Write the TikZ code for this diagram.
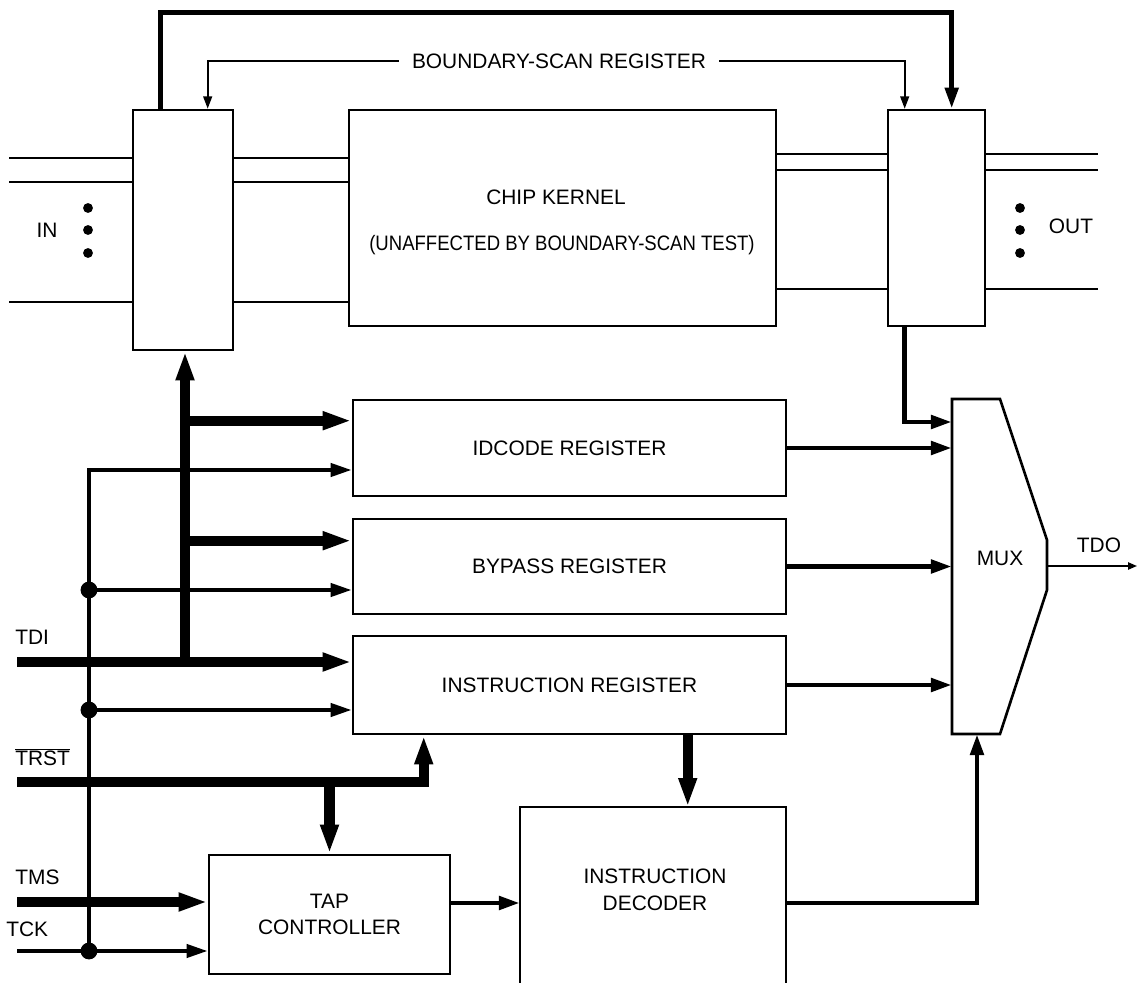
\documentclass[tikz,border=0pt]{standalone}
\usepackage{fontspec}
\setmainfont{Liberation Sans}
\usetikzlibrary{arrows.meta,calc}
\tikzset{
  Tl/.tip={Triangle[length=16.5pt,width=9.6pt]},
  Tm/.tip={Triangle[length=12pt,width=7.4pt]},
  Ts/.tip={Triangle[length=7pt,width=5pt]},
  Tt/.tip={Triangle[length=5pt,width=4pt]},
}
\begin{document}
\begin{tikzpicture}[x=0.02cm,y=-0.02cm,
  every node/.style={font=\fontsize{11.9}{15.2}\selectfont,inner sep=0pt},
  boxl/.style={line width=1.5pt},
  box/.style={draw,boxl,inner sep=0pt,align=center},
  sig/.style={line width=1.2pt},
  thinl/.style={line width=1.0pt},
  med/.style={line width=2.8pt},
  tckl/.style={line width=2.3pt},
  bus/.style={line width=5.8pt},
  lbl/.style={anchor=west},
  dotS/.style={fill=black},
]
\useasboundingbox (0,0) rectangle (1137,983);

% boxes
\node[box,minimum width=2cm,minimum height=4.8cm] (bsl) at (183,230) {};
\node[box,minimum width=8.54cm,minimum height=4.32cm] (kernel) at (562.5,218) {};
\node (k1) at (556,197) {CHIP KERNEL};
\node (k2) at (562,245) {\scalebox{0.887}[1]{(UNAFFECTED BY BOUNDARY-SCAN TEST)}};
\node[box,minimum width=1.94cm,minimum height=4.32cm] (bso) at (936.5,218) {};
\node[box,minimum width=8.66cm,minimum height=1.92cm] (idcode) at (569.5,448) {IDCODE REGISTER};
\node[box,minimum width=8.66cm,minimum height=1.9cm] (bypass) at (569.5,566.5) {BYPASS REGISTER};
\node[box,minimum width=8.66cm,minimum height=1.96cm] (ir) at (569.5,685) {INSTRUCTION REGISTER};
\node[box,minimum width=4.82cm,minimum height=2.38cm] (tap) at (329.5,914.5) {TAP\\CONTROLLER};

% instruction decoder (open at the bottom)
\coordinate (decnw) at (520,807);
\coordinate (decne) at (786,807);
\coordinate (decsw) at (520,995);
\coordinate (decse) at (786,995);
\draw[boxl] (decsw) -- (decnw) -- (decne) -- (decse);
\node[align=center] (declbl) at (655,890) {INSTRUCTION\\DECODER};

% MUX
\coordinate (mux1) at (952,399);
\coordinate (mux2) at (1000,399);
\coordinate (mux3) at (1047,540);
\coordinate (mux4) at (1047,590);
\coordinate (mux5) at (1000,734);
\coordinate (mux6) at (952,734);
\draw[boxl] (mux1) -- (mux2) -- (mux3) -- (mux4) -- (mux5) -- (mux6) -- cycle;
\node (muxlbl) at (1000,558) {MUX};
\coordinate (muxout) at (1047,566);
\coordinate (muxin0) at (952,422);
\coordinate (muxbot) at (977,734);

% top loop
\draw[med,-{Tm}] ($(bsl.north west)+(29,0)$) -- ++(0,-96) -| ($(bso.north west)+(65,0)$);

% boundary-scan register label and thin arrows
\node[inner xsep=7.4pt] (bsr) at (559,61) {BOUNDARY-SCAN REGISTER};
\draw[thinl,-{Ts}] (bsr.west) -| ($(bsl.north west)+(76,0)$);
\draw[thinl,-{Ts}] (bsr.east) -| ($(bso.north west)+(18,0)$);

% IN lines
\coordinate (in1) at (9,158);
\coordinate (in2) at (9,182);
\coordinate (in3) at (9,302);
\foreach \c in {in1,in2,in3} {
  \draw[sig] (\c) -- (\c -| bsl.west);
  \draw[sig] (bsl.east |- \c) -- (kernel.west |- \c);
}
% OUT lines
\coordinate (out1) at (1098,154);
\coordinate (out2) at (1098,170);
\coordinate (out3) at (1098,289);
\foreach \c in {out1,out2,out3} {
  \draw[sig] (kernel.east |- \c) -- (bso.west |- \c);
  \draw[sig] (bso.east |- \c) -- (\c);
}
\foreach \y in {208,230,253} {
  \fill (88,\y) circle[radius=2.8pt];
  \fill (1020,\y) circle[radius=2.8pt];
}
\node (inlbl) at (47,230) {IN};
\node (outlbl) at (1071,226) {OUT};

% into MUX
\draw[med,-{Tm}] ($(bso.south west)+(18,0)$) |- (muxin0);
\draw[med,-{Tm}] (idcode.east) -- (idcode.east -| mux1);
\draw[med,-{Tm}] (bypass.east) -- (bypass.east -| mux1);
\draw[med,-{Tm}] (ir.east) -- (ir.east -| mux1);
\coordinate (tdo) at (1137,566);
\draw[thinl,-{Tt}] (muxout) -- (tdo);
\node (tdolbl) at (1099,545) {TDO};

% decoder to MUX
\draw[med,-{Tm}] ($(decne)+(0,96)$) -| (muxbot);
% IR to decoder
\draw[bus,-{Tl}] ($(ir.south west)+(336,0)$) coordinate (irdec) -- (irdec |- decnw);
% TAP to decoder
\draw[med,-{Tm}] ($(tap.east)+(0,-11.5)$) coordinate (tapdec) -- (tapdec -| decnw);

% TDI
\coordinate (tdi) at (17,662);
\draw[bus,-{Tl}] (tdi) -- (tdi -| ir.west);
\draw[bus,-{Tl}] ($(tdi)+(168,0)$) coordinate (tdiv) -- (tdiv |- bsl.south);
\coordinate (b1) at ($(tdiv |- idcode.north)+(0,22)$);
\coordinate (b2) at ($(tdiv |- bypass.north)+(0,23)$);
\draw[bus,-{Tl}] (b1) -- (b1 -| idcode.west);
\draw[bus,-{Tl}] (b2) -- (b2 -| bypass.west);
\node[lbl] (tdilbl) at (15,637) {TDI};

% TRST
\coordinate (trst) at (17,782);
\draw[bus,-{Tl}] (trst) -| ($(ir.south west)+(72,0)$);
\draw[bus,-{Tl}] (trst -| tap.north) -- (tap.north);
\node[lbl] (trstlbl) at (15,757) {$\overline{\mbox{TRST}}$};

% TMS
\coordinate (tms) at (17,902);
\draw[bus,-{Tl}] (tms) -- (tms -| tap.west);
\node[lbl] (tmslbl) at (15,877) {TMS};

% TCK
\coordinate (tck) at (17,951);
\draw[tckl,-{Tm}] (tck) -- (tck -| tap.west);
\coordinate (tckv) at ($(tck)+(72,0)$);
\coordinate (c1) at ($(idcode.west)+(0,22)$);
\coordinate (c2) at ($(bypass.west)+(0,23.5)$);
\coordinate (c3) at ($(ir.west)+(0,25)$);
\draw[tckl,-{Tm}] (tckv) |- (c1);
\draw[tckl,-{Tm}] (tckv |- c2) -- (c2);
\draw[tckl,-{Tm}] (tckv |- c3) -- (c3);
\fill (tckv |- c2) circle[radius=4.8pt];
\fill (tckv |- c3) circle[radius=4.8pt];
\fill (tckv) circle[radius=4.8pt];
\node[lbl] (tcklbl) at (6,929) {TCK};
\end{tikzpicture}
\end{document}
